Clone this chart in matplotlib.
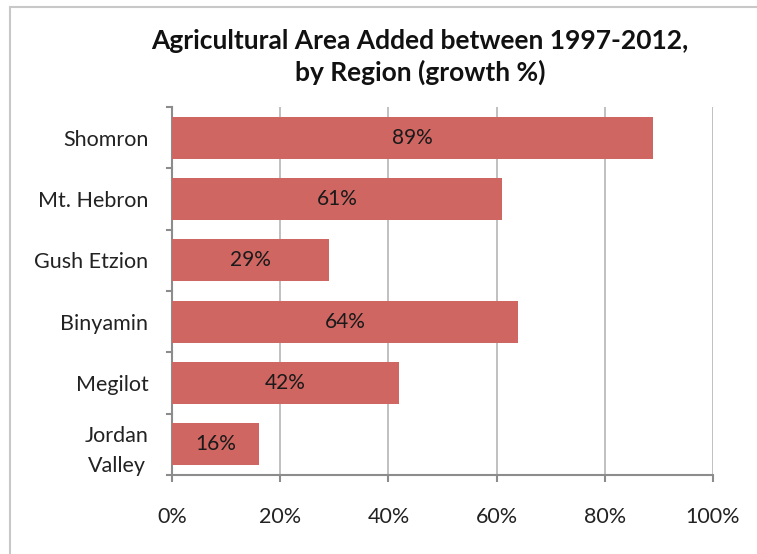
import matplotlib
matplotlib.use("Agg")
import matplotlib.pyplot as plt
from matplotlib.patches import Rectangle

categories = ["Shomron", "Mt. Hebron", "Gush Etzion", "Binyamin", "Megilot", "Jordan\nValley"]
values = [89, 61, 29, 64, 42, 16]
xticks = [0, 20, 40, 60, 80, 100]
xtick_labels = ["0%", "20%", "40%", "60%", "80%", "100%"]
title = "Agricultural Area Added between 1997-2012,\nby Region (growth %)"

plt.rcParams['font.family'] = ['Lato', 'DejaVu Sans']
W, H = 757, 554
fig = plt.figure(figsize=(W/100, H/100), dpi=100)
fig.patch.set_facecolor('white')

# outer frame
fig.patches.append(Rectangle((10/W, -0.05), 1.2, (H-7)/H + 0.05, transform=fig.transFigure,
                             fill=False, edgecolor='#c8c8c8', linewidth=1.5, figure=fig))

left, right, top, bottom = 172, 713, 107, 475
ax = fig.add_axes([left/W, 1-bottom/H, (right-left)/W, (bottom-top)/H])

fs = 15.5
y = list(range(len(categories)))
bar_color = '#CF6662'
ax.barh(y, values, height=0.68, color=bar_color, zorder=3)
for yi, v in zip(y, values):
    ax.text(v/2, yi, f"{v}%", ha='center', va='center', fontsize=15, color='#1a1a1a', zorder=4)

ax.set_ylim(len(categories)-0.5, -0.5)
ax.set_xlim(0, 100)
ax.set_yticks(y)
ax.set_yticklabels(categories, fontsize=fs, color='#222222', multialignment='center',
                   linespacing=1.6)
ax.set_xticks(xticks)
ax.set_xticklabels(xtick_labels, fontsize=fs, color='#222222')
ax.tick_params(axis='y', length=0, pad=17)
ax.tick_params(axis='x', length=5, color='#8c8c8c', width=1.5, pad=18, direction='out')

# category separator ticks on y axis
for b in [i - 0.5 for i in range(len(categories)+1)]:
    ax.plot([-1.0, 0], [b, b], color='#8c8c8c', lw=1.5, clip_on=False, zorder=5)

ax.grid(axis='x', color='#b5b5b5', linewidth=1.2, zorder=0)
for s in ['top', 'right']:
    ax.spines[s].set_visible(False)
for s in ['left', 'bottom']:
    ax.spines[s].set_color('#8c8c8c')
    ax.spines[s].set_linewidth(1.5)

fig.text(420/W, 1 - 57/H, title, ha='center', va='center', fontsize=19,
         fontweight='bold', color='#111111', linespacing=1.3)

fig.savefig("out.png", dpi=100)
